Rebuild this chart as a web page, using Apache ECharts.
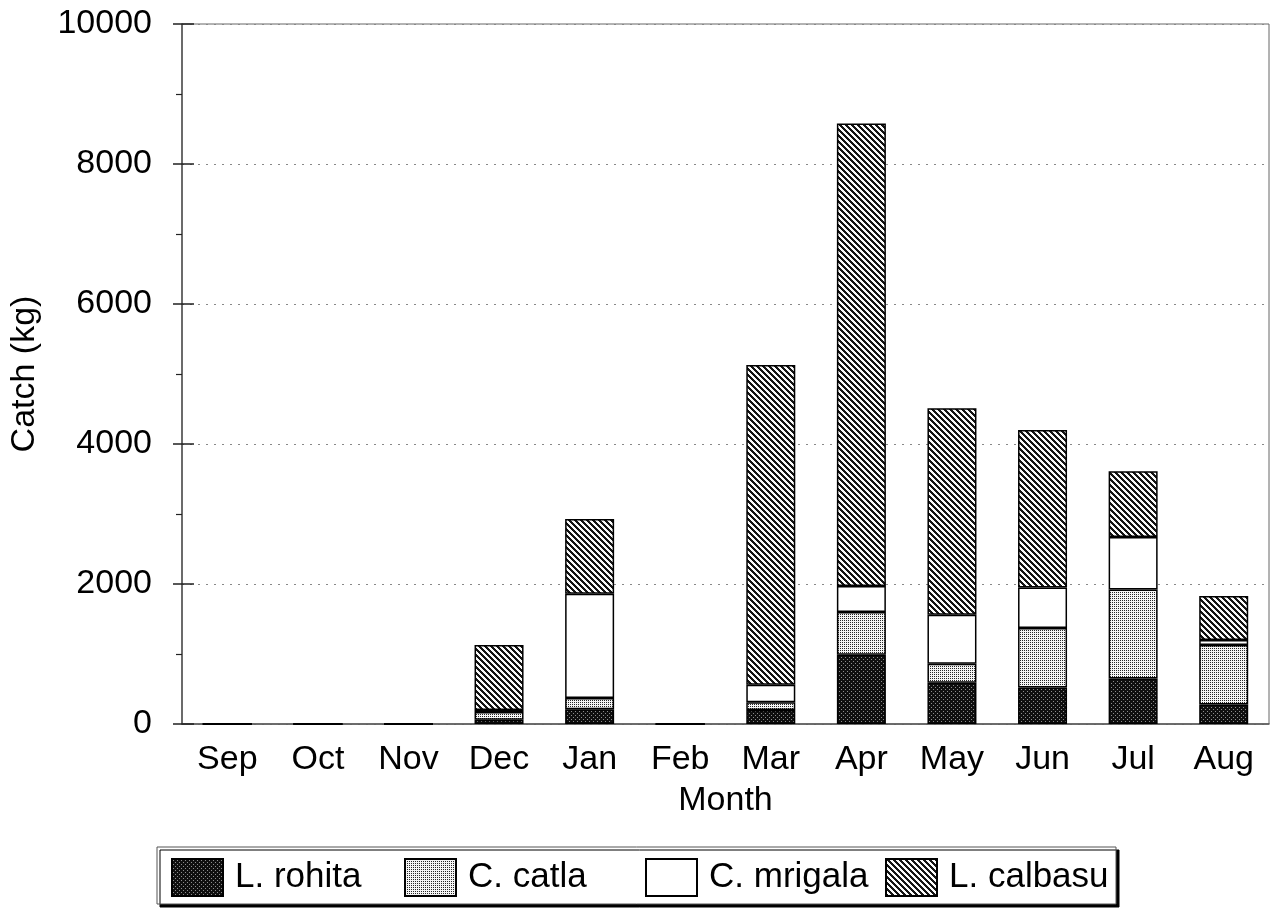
<!DOCTYPE html>
<html>
<head>
<meta charset="utf-8">
<script src="https://cdn.jsdelivr.net/npm/echarts@6/dist/echarts.min.js"></script>
<style>
  html, body { margin: 0; padding: 0; background: #fff; }
  #chart { width: 1273px; height: 912px; }
</style>
</head>
<body>
<div id="chart"></div>
<script>
const months = ['Sep', 'Oct', 'Nov', 'Dec', 'Jan', 'Feb', 'Mar', 'Apr', 'May', 'Jun', 'Jul', 'Aug'];
const rohita  = [0, 0, 0, 60, 210, 0, 200, 990, 590, 520, 650, 280];
const catla   = [0, 0, 0, 110, 160, 0, 110, 610, 270, 850, 1270, 850];
const mrigala = [0, 0, 0, 30, 1490, 0, 250, 370, 700, 580, 750, 70];
const calbasu = [0, 0, 0, 930, 1070, 0, 4570, 6610, 2950, 2250, 940, 630];
const yTicks = [0, 2000, 4000, 6000, 8000, 10000];

const FONT = '"Liberation Sans", Arial, sans-serif';
const FS = 34;

// fill patterns drawn on small canvases
function makePattern(size, fn) {
  const c = document.createElement('canvas');
  c.width = size; c.height = size;
  const ctx = c.getContext('2d');
  const img = ctx.createImageData(size, size);
  for (let y = 0; y < size; y++) {
    for (let x = 0; x < size; x++) {
      const v = fn(x, y);
      const i = (y * size + x) * 4;
      img.data[i] = img.data[i + 1] = img.data[i + 2] = v;
      img.data[i + 3] = 255;
    }
  }
  ctx.putImageData(img, 0, 0);
  return { image: c, repeat: 'repeat' };
}

const darkDots = makePattern(4, (x, y) => ((x === 1 && y === 1) || (x === 3 && y === 3)) ? 140 : 15);
const lightDots = makePattern(4, (x, y) => ((x + y) % 2 === 0 && (x % 2 === 0)) ? 40 : 245);
const hatch = makePattern(6, (x, y) => (((x - y) % 6 + 6) % 6) < 3 ? 20 : 250);

const names = ['L. rohita', 'C. catla', 'C. mrigala', 'L. calbasu'];
const fills = [darkDots, lightDots, '#ffffff', hatch];
const values = [rohita, catla, mrigala, calbasu];
const legendLeft = [171, 404, 645, 885];

const chart = echarts.init(document.getElementById('chart'));

const option = {
  animation: false,
  textStyle: { fontFamily: FONT },
  grid: {
    left: 181, right: 4, top: 24, bottom: 188,
    show: true, borderColor: '#666', borderWidth: 1
  },
  graphic: [{
    type: 'rect',
    z: 1,
    shape: { x: 157, y: 847, width: 959, height: 57 },
    style: {
      fill: '#fff', stroke: '#555', lineWidth: 1,
      shadowColor: '#000', shadowOffsetX: 3, shadowOffsetY: 3, shadowBlur: 0
    }
  }],
  legend: names.map((n, i) => ({
    data: [n],
    left: legendLeft[i],
    top: 858,
    padding: 0,
    z: 5,
    icon: 'rect',
    itemWidth: 51,
    itemHeight: 37,
    selectedMode: false,
    textStyle: { fontFamily: FONT, fontSize: 35, color: '#000', padding: [3, 0, 0, 7] }
  })),
  xAxis: [{
    type: 'category',
    data: months,
    name: 'Month',
    nameLocation: 'middle',
    nameGap: 60,
    nameTextStyle: { fontFamily: FONT, fontSize: FS, color: '#000' },
    axisLine: { lineStyle: { color: '#555', width: 1.5 } },
    axisTick: { length: 10, lineStyle: { color: '#222', width: 1.5 } },
    axisLabel: { fontFamily: FONT, fontSize: FS, color: '#000', margin: 19 },
    splitLine: { show: false }
  }, {
    type: 'category',
    data: months,
    position: 'bottom',
    axisLine: { show: false },
    axisTick: { inside: true, length: 12, lineStyle: { color: '#222', width: 1.5 } },
    axisLabel: { show: false },
    splitLine: { show: false }
  }],
  yAxis: [{
    type: 'value',
    min: yTicks[0],
    max: yTicks[yTicks.length - 1],
    interval: 2000,
    name: 'Catch (kg)',
    nameLocation: 'middle',
    nameGap: 140,
    nameTextStyle: { fontFamily: FONT, fontSize: FS, color: '#000' },
    axisLine: { show: true, lineStyle: { color: '#555', width: 1.5 } },
    axisTick: { show: true, length: 9, lineStyle: { color: '#222', width: 1.5 } },
    minorTick: { show: true, splitNumber: 2, length: 6, lineStyle: { color: '#222', width: 1.2 } },
    axisLabel: { fontFamily: FONT, fontSize: FS, color: '#000', margin: 30, formatter: v => String(v) },
    splitLine: { show: true, lineStyle: { color: '#888', type: [2, 6], width: 1 } }
  }, {
    type: 'value',
    position: 'left',
    min: yTicks[0],
    max: yTicks[yTicks.length - 1],
    interval: 2000,
    axisLine: { show: false },
    axisTick: { show: true, inside: true, length: 12, lineStyle: { color: '#222', width: 1.5 } },
    axisLabel: { show: false },
    splitLine: { show: false }
  }],
  series: names.map((n, i) => ({
    name: n,
    type: 'bar',
    stack: 'catch',
    barWidth: 49,
    data: values[i],
    itemStyle: { color: fills[i], borderColor: '#000', borderWidth: 1.5 }
  }))
};

chart.setOption(option);
</script>
</body>
</html>
